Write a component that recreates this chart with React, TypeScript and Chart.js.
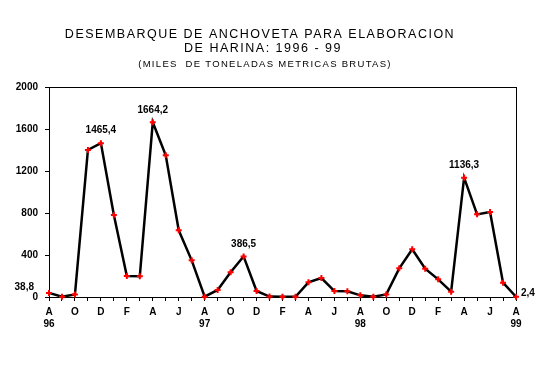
import React, { useEffect, useRef } from "react";
import { Chart, registerables } from "chart.js";

Chart.register(...registerables);

// Monthly landings, Aug 1996 – Aug 1999 (thousand gross metric tons)
const monthLabels = [
  "A", "", "O", "", "D", "", "F", "", "A", "", "J", "",
  "A", "", "O", "", "D", "", "F", "", "A", "", "J", "",
  "A", "", "O", "", "D", "", "F", "", "A", "", "J", "",
  "A",
];
const yearLabels = [
  "96", "", "", "", "", "", "", "", "", "", "", "",
  "97", "", "", "", "", "", "", "", "", "", "", "",
  "98", "", "", "", "", "", "", "", "", "", "", "",
  "99",
];
const landings = [
  38.8, 2, 25, 1400, 1465.4, 781, 200, 198, 1664.2, 1349, 635, 349,
  3, 67, 235, 386.5, 57, 4, 2, 2, 140, 181, 57, 55,
  16, 2, 25, 273, 454, 270, 168, 51, 1136.3, 787, 809, 136,
  2.4,
];
const yTicks = [0, 400, 800, 1200, 1600, 2000];

// value annotations
const peakIdx = [4, 8, 15, 32];
const peakText = ["1465,4", "1664,2", "386,5", "1136,3"];
const firstText = "38,8";
const lastText = "2,4";

const titleLines = [
  "DESEMBARQUE DE ANCHOVETA PARA ELABORACION",
  "DE HARINA: 1996 - 99",
];
const subtitle = "(MILES  DE TONELADAS METRICAS BRUTAS)";

const FONT = "'Liberation Sans', Arial, Helvetica, sans-serif";

export default function App() {
  const ref = useRef<HTMLCanvasElement | null>(null);

  useEffect(() => {
    if (!ref.current) return;
    const labels = monthLabels.map((m, i) => (yearLabels[i] ? [m, yearLabels[i]] : m));

    const annotate = {
      id: "annotate",
      afterDraw(chart: any) {
        const ctx = chart.ctx as CanvasRenderingContext2D;
        const meta = chart.getDatasetMeta(0);
        const area = chart.chartArea;
        ctx.save();
        ctx.fillStyle = "#000";
        // titles
        (ctx as any).letterSpacing = "1.5px";
        ctx.font = `normal 12.5px ${FONT}`;
        ctx.textAlign = "center";
        ctx.textBaseline = "alphabetic";
        ctx.fillText(titleLines[0], 260, 37.5);
        ctx.fillText(titleLines[1], 263, 52);
        (ctx as any).letterSpacing = "1.3px";
        ctx.font = `normal 9.5px ${FONT}`;
        ctx.fillText(subtitle, 265, 66.5);
        (ctx as any).letterSpacing = "0px";
        // peak labels
        ctx.font = `bold 10px ${FONT}`;
        ctx.textBaseline = "middle";
        peakIdx.forEach((idx, k) => {
          const p = meta.data[idx];
          ctx.fillText(peakText[k], p.x, p.y - 12.5);
        });
        // first and last
        const p0 = meta.data[0];
        ctx.textAlign = "right";
        ctx.fillText(firstText, area.left - 15, p0.y - 6);
        const pl = meta.data[meta.data.length - 1];
        ctx.textAlign = "left";
        ctx.fillText(lastText, area.right + 5, pl.y - 3);
        ctx.restore();
      },
    };

    const chart = new Chart(ref.current, {
      type: "line",
      data: {
        labels,
        datasets: [
          {
            data: landings,
            borderColor: "#000",
            borderWidth: 2.5,
            tension: 0,
            pointStyle: "cross",
            pointRadius: 3,
            pointBorderWidth: 2,
            pointBorderColor: "#ff0000",
            pointBackgroundColor: "#ff0000",
            clip: false as any,
          },
        ],
      },
      options: {
        animation: false,
        responsive: true,
        maintainAspectRatio: false,
        layout: { padding: { top: 87, right: 43, left: 0, bottom: 0 } },
        plugins: {
          legend: { display: false },
          title: { display: false },
          tooltip: { enabled: false },
        },
        scales: {
          x: {
            type: "category",
            offset: false,
            afterFit: (s: any) => {
              s.height = 69;
            },
            border: { display: true, color: "#000", width: 1 },
            grid: {
              drawOnChartArea: true,
              color: (c: any) => (c.index === landings.length - 1 ? "#000" : "rgba(0,0,0,0)"),
              tickColor: "#000",
              tickLength: 4,
            },
            ticks: {
              autoSkip: false,
              maxRotation: 0,
              minRotation: 0,
              padding: 5,
              color: "#000",
              font: { family: FONT, size: 10, weight: "bold", lineHeight: 1.24 },
            },
          },
          y: {
            min: 0,
            max: 2000,
            afterFit: (s: any) => {
              s.width = 49;
            },
            afterBuildTicks: (s: any) => {
              s.ticks = yTicks.map((v) => ({ value: v }));
            },
            border: { display: true, color: "#000", width: 1 },
            grid: {
              drawOnChartArea: true,
              color: (c: any) => (c.tick && c.tick.value === 2000 ? "#000" : "rgba(0,0,0,0)"),
              tickColor: "#000",
              tickLength: 4,
            },
            ticks: {
              padding: 7,
              color: "#000",
              font: { family: FONT, size: 10, weight: "bold" },
              callback: (v: any) => String(v),
            },
          },
        },
      },
      plugins: [annotate],
    });
    return () => chart.destroy();
  }, []);

  return (
    <div style={{ position: "absolute", left: 0, top: 0, width: 559, height: 366, background: "#fff" }}>
      <canvas ref={ref} />
    </div>
  );
}
